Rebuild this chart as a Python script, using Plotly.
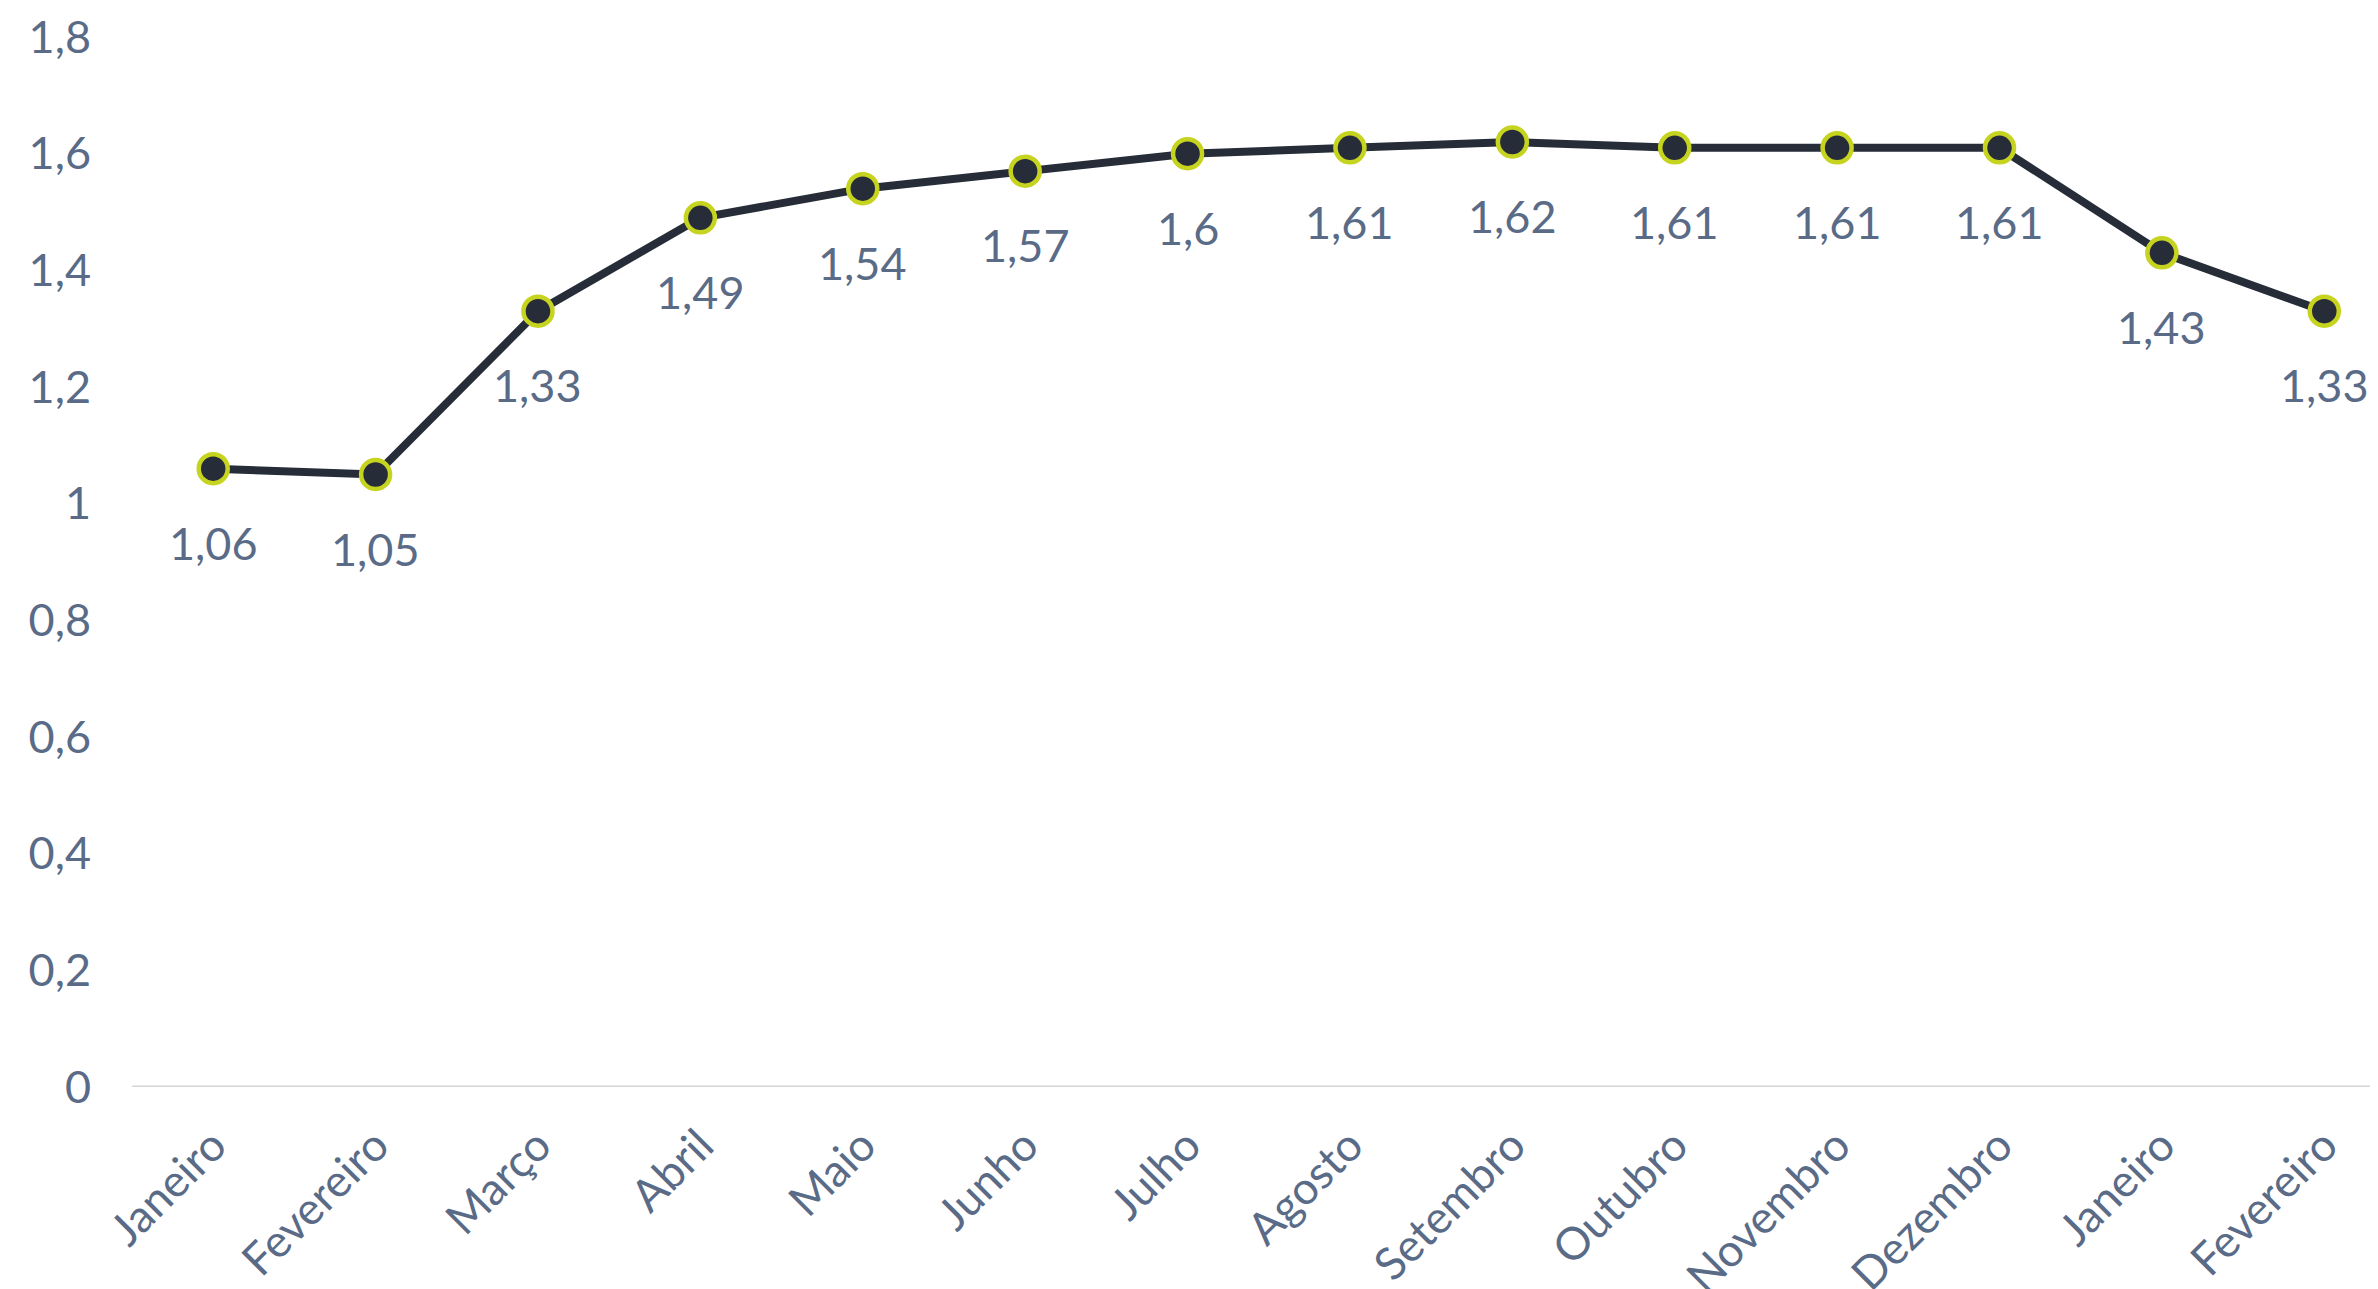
import plotly.graph_objects as go

months = ["Janeiro", "Fevereiro", "Março", "Abril", "Maio", "Junho", "Julho",
          "Agosto", "Setembro", "Outubro", "Novembro", "Dezembro", "Janeiro", "Fevereiro"]
values = [1.06, 1.05, 1.33, 1.49, 1.54, 1.57, 1.60, 1.61, 1.62, 1.61, 1.61, 1.61, 1.43, 1.33]
labels = ["1,06", "1,05", "1,33", "1,49", "1,54", "1,57", "1,6", "1,61", "1,62",
          "1,61", "1,61", "1,61", "1,43", "1,33"]
y_ticks = [0, 0.2, 0.4, 0.6, 0.8, 1, 1.2, 1.4, 1.6, 1.8]
y_tick_text = ["0", "0,2", "0,4", "0,6", "0,8", "1", "1,2", "1,4", "1,6", "1,8"]

x_idx = list(range(len(months)))
text_color = "#5a6b87"
font_family = "Lato, Open Sans, sans-serif"
fs = 45

fig = go.Figure()
fig.add_trace(go.Scatter(
    x=x_idx, y=values, mode="lines+markers",
    line=dict(color="#262d38", width=8),
    marker=dict(size=29, color="#262d38", line=dict(color="#c6d420", width=4.5)),
    hoverinfo="skip",
))

for xi, v, t in zip(x_idx, values, labels):
    fig.add_annotation(x=xi, y=v, text=t, showarrow=False, yshift=-74,
                       font=dict(size=fs, color=text_color, family=font_family))

fig.update_layout(
    width=2378, height=1289,
    margin=dict(l=124, r=0, t=29, b=210),
    paper_bgcolor="white", plot_bgcolor="white",
    showlegend=False,
    font=dict(family=font_family, size=fs, color=text_color),
    xaxis=dict(
        range=[-0.5, 13.38], tickmode="array", tickvals=x_idx, ticktext=months,
        tickangle=-45, showgrid=False, zeroline=False, showline=False,
        ticks="", ticklabelstandoff=22, automargin=False,
        tickfont=dict(size=fs, color=text_color, family=font_family),
    ),
    yaxis=dict(
        range=[0, 1.8], tickmode="array", tickvals=y_ticks, ticktext=y_tick_text,
        showgrid=False, zeroline=False, showline=False, ticks="",
        ticklabelstandoff=40, automargin=False,
        tickfont=dict(size=fs, color=text_color, family=font_family),
    ),
)
fig.add_hline(y=0, line=dict(color="#d4d6da", width=3), layer="below")

fig.write_html("out.html")
